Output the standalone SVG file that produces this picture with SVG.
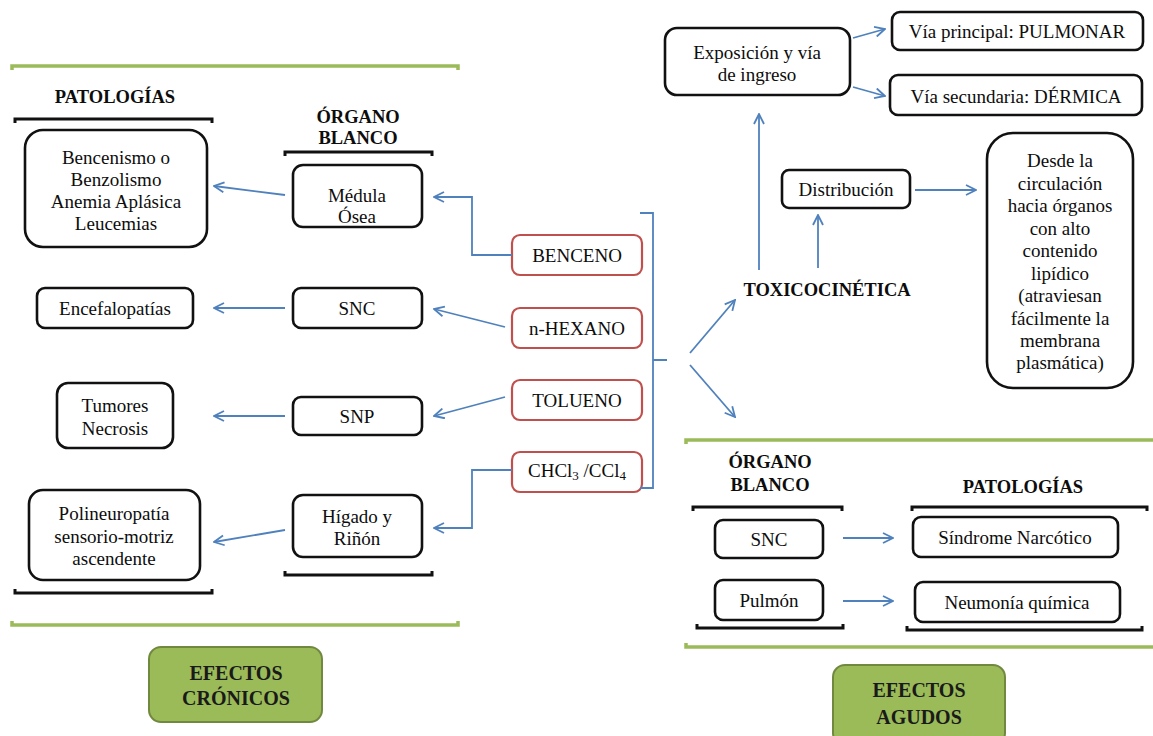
<svg xmlns="http://www.w3.org/2000/svg" width="1153" height="736" viewBox="0 0 1153 736">
<style>
text{font-family:'Liberation Serif','Times New Roman',serif;font-size:19px;fill:#0d0d0d;text-anchor:middle;dominant-baseline:central}
.b{font-weight:bold;font-size:18.5px}
.eb{font-weight:bold;font-size:20px;fill:#1a1a1a}
.box{fill:#fff;stroke:#111;stroke-width:2.6}
.red{fill:#fff;stroke:#c0504d;stroke-width:2.2}
.green{fill:#9bbb59;stroke:#71893f;stroke-width:2}
.br{fill:none;stroke:#111;stroke-width:3}
.gl{fill:none;stroke:#9bbb59;stroke-width:3.5}
.ar{fill:none;stroke:#4f81bd;stroke-width:1.8}
.arm{marker-end:url(#ah)}
</style>
<defs>
<marker id="ah" markerUnits="userSpaceOnUse" viewBox="0 0 12 12" refX="11" refY="6" markerWidth="12" markerHeight="12" orient="auto">
<path d="M1,1 L11,6 L1,11" fill="none" stroke="#4f81bd" stroke-width="1.8"/>
</marker>
</defs>
<rect width="1153" height="736" fill="#fff"/>

<g id="panel-lines">
<path class="gl" d="M12,70 L12,66 L458,66 L458,70"/>
<path class="gl" d="M12,621 L12,625 L458,625 L458,621"/>
<path class="gl" d="M686,444 L686,440 L1153,440"/>
<path class="gl" d="M686,643 L686,647 L1153,647"/>
</g>

<g id="headers">
<text class="b" x="115" y="97">PATOLOGÍAS</text>
<text class="b" x="358" y="117">ÓRGANO</text>
<text class="b" x="358" y="138">BLANCO</text>
<text class="b" x="770" y="462">ÓRGANO</text>
<text class="b" x="770" y="485">BLANCO</text>
<text class="b" x="1023" y="487">PATOLOGÍAS</text>
<path class="br" d="M15,123 L15,119 L212,119 L212,123"/>
<path class="br" d="M285,156 L285,152 L432,152 L432,156"/>
<path class="br" d="M15,589 L15,593 L212,593 L212,589"/>
<path class="br" d="M285,571 L285,575 L432,575 L432,571"/>
<path class="br" d="M693,511 L693,507 L842,507 L842,511"/>
<path class="br" d="M912,511 L912,507 L1147,507 L1147,511"/>
<path class="br" d="M697,624 L697,628 L843,628 L843,624"/>
<path class="br" d="M907,626 L907,630 L1142,630 L1142,626"/>
</g>

<g id="n-bencenismo"><rect class="box" x="25" y="130" width="182" height="117" rx="18"/>
<text x="116" y="157">Bencenismo o</text><text x="116" y="179">Benzolismo</text><text x="116" y="201">Anemia Aplásica</text><text x="116" y="223">Leucemias</text></g>
<g id="n-medula"><rect class="box" x="293" y="165" width="129" height="62" rx="10"/>
<text x="357" y="195">Médula</text><text x="357" y="216">Ósea</text></g>
<g id="n-encefalopatias"><rect class="box" x="37" y="288" width="156" height="40" rx="8"/><text x="115" y="308">Encefalopatías</text></g>
<g id="n-snc1"><rect class="box" x="293" y="288" width="129" height="40" rx="8"/><text x="357" y="308">SNC</text></g>
<g id="n-tumores"><rect class="box" x="57" y="383" width="116" height="65" rx="11"/>
<text x="115" y="405">Tumores</text><text x="115" y="428">Necrosis</text></g>
<g id="n-snp"><rect class="box" x="293" y="397" width="129" height="38" rx="8"/><text x="357" y="416">SNP</text></g>
<g id="n-polineuropatia"><rect class="box" x="29" y="490" width="171" height="90" rx="14"/>
<text x="114" y="513">Polineuropatía</text><text x="114" y="536">sensorio-motriz</text><text x="114" y="558">ascendente</text></g>
<g id="n-higado"><rect class="box" x="293" y="495" width="129" height="62" rx="10"/>
<text x="357" y="516">Hígado y</text><text x="357" y="538">Riñón</text></g>

<g id="n-benceno"><rect class="red" x="512" y="235" width="130" height="40" rx="8"/><text x="577" y="255">BENCENO</text></g>
<g id="n-hexano"><rect class="red" x="512" y="308" width="130" height="40" rx="8"/><text x="577" y="328">n-HEXANO</text></g>
<g id="n-tolueno"><rect class="red" x="512" y="380" width="130" height="40" rx="8"/><text x="577" y="400">TOLUENO</text></g>
<g id="n-chcl3"><rect class="red" x="512" y="452" width="130" height="40" rx="8"/><text x="577" y="470">CHCl<tspan font-size="13" dy="5">3</tspan><tspan dy="-5"> /CCl</tspan><tspan font-size="13" dy="5">4</tspan></text></g>

<g id="n-toxicocinetica"><text class="b" x="827" y="290">TOXICOCINÉTICA</text></g>
<g id="n-exposicion"><rect class="box" x="665" y="28" width="185" height="67" rx="12"/>
<text x="757" y="52">Exposición y vía</text><text x="757" y="74">de ingreso</text></g>
<g id="n-principal"><rect class="box" x="892" y="12" width="251" height="38" rx="8"/><text x="1017" y="31">Vía principal:  PULMONAR</text></g>
<g id="n-secundaria"><rect class="box" x="890" y="75" width="252" height="40" rx="8"/><text x="1016" y="96">Vía secundaria: DÉRMICA</text></g>
<g id="n-distribucion"><rect class="box" x="782" y="170" width="128" height="38" rx="7"/><text x="846" y="189">Distribución</text></g>
<g id="n-desde"><rect class="box" x="987" y="133" width="146" height="255" rx="26"/>
<text x="1060" y="160">Desde la</text><text x="1060" y="183">circulación</text><text x="1060" y="205">hacia órganos</text><text x="1060" y="228">con alto</text><text x="1060" y="250">contenido</text><text x="1060" y="273">lipídico</text><text x="1060" y="295">(atraviesan</text><text x="1060" y="318">fácilmente la</text><text x="1060" y="340">membrana</text><text x="1060" y="362">plasmática)</text></g>

<g id="n-snc2"><rect class="box" x="715" y="520" width="108" height="38" rx="8"/><text x="769" y="539">SNC</text></g>
<g id="n-pulmon"><rect class="box" x="715" y="580" width="108" height="40" rx="8"/><text x="769" y="600">Pulmón</text></g>
<g id="n-sindrome"><rect class="box" x="913" y="517" width="205" height="40" rx="8"/><text x="1015" y="537">Síndrome Narcótico</text></g>
<g id="n-neumonia"><rect class="box" x="915" y="582" width="205" height="40" rx="8"/><text x="1017" y="602">Neumonía química</text></g>

<g id="n-cronicos"><rect class="green" x="149" y="647" width="173" height="75" rx="12"/>
<text class="eb" x="236" y="673">EFECTOS</text><text class="eb" x="236" y="698">CRÓNICOS</text></g>
<g id="n-agudos"><rect class="green" x="833" y="665" width="172" height="80" rx="12"/>
<text class="eb" x="919" y="690">EFECTOS</text><text class="eb" x="919" y="717">AGUDOS</text></g>

<g id="connectors">
<path class="ar arm" d="M285,195 L214,186"/>
<path class="ar arm" d="M285,308 L214,308"/>
<path class="ar arm" d="M285,416 L214,416"/>
<path class="ar arm" d="M285,530 L214,542"/>
<path class="ar arm" d="M512,255 L472,255 L472,197 L434,197"/>
<path class="ar arm" d="M505,327 L434,309"/>
<path class="ar arm" d="M505,397 L434,416"/>
<path class="ar arm" d="M512,470 L472,470 L472,528 L434,528"/>
<path class="ar" d="M640,213 L653,213 L653,488 L640,488 M653,360 L667,360"/>
<path class="ar arm" d="M690,353 L735,300"/>
<path class="ar arm" d="M690,365 L735,417"/>
<path class="ar arm" d="M759,270 L759,114"/>
<path class="ar arm" d="M818,268 L818,215"/>
<path class="ar arm" d="M915,190 L976,190"/>
<path class="ar arm" d="M853,38 L885,29"/>
<path class="ar arm" d="M853,87 L885,96"/>
<path class="ar arm" d="M843,538 L893,538"/>
<path class="ar arm" d="M843,601 L893,601"/>
</g>
</svg>
